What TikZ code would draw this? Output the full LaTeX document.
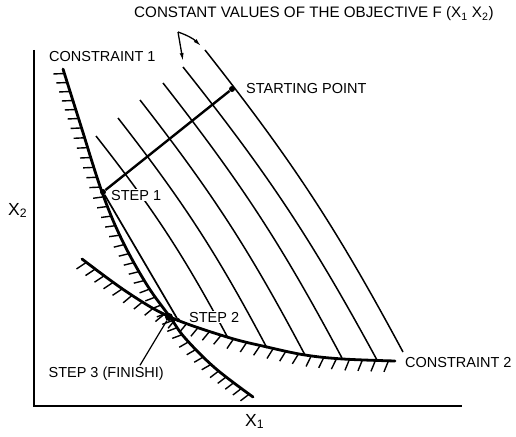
\documentclass[tikz,border=0pt]{standalone}
\usepackage{fontspec}
\setmainfont{Liberation Sans}
\usetikzlibrary{arrows.meta, calc}

\begin{document}
\begin{tikzpicture}[
    x=1pt, y=-1pt,
    font=\fontsize{14.5}{17}\selectfont,
    axis/.style={line width=1.8pt},
    axislbl/.style={inner sep=1pt, font=\fontsize{17.5}{20}\selectfont},
    constraint/.style={line width=2.8pt, line cap=round, line join=round},
    hatchline/.style={line width=1.4pt},
    contour/.style={line width=1.5pt},
    move/.style={line width=2.4pt},
    txt/.style={inner sep=1pt},
    dot/.style={circle, fill, inner sep=0pt, minimum size=6pt},
    pointer/.style={line width=1.3pt, -{Latex[length=8pt,width=4pt]}},
]
\useasboundingbox (0,0) rectangle (516,436);

% axes
\coordinate (origin) at (34,406);
\draw[axis] (34,50) -- (origin) -- (462,406);

% lines of constant objective
\foreach \ta/\tb/\ea/\eb in {96/136/228/338, 118/118/267/348, 140/100/305/355,
    163/83/342/358, 183/67/377/360, 205/50/403/352}
  \draw[contour] (\ta,\tb) to[bend left=5] (\ea,\eb);

% labels
\node[txt, anchor=base west, font=\fontsize{15.2}{17}\selectfont] (objlbl) at (133,18)
  {CONSTANT VALUES OF THE OBJECTIVE F (X\textsubscript{1} X\textsubscript{2})};
\node[txt, anchor=base west] (c1lbl) at (48,62) {CONSTRAINT 1};
\node[txt, anchor=base west] (startlbl) at (245,93) {STARTING POINT};
\node[txt, anchor=base west, fill=white] (step1lbl) at (110,200) {STEP 1};
\node[txt, anchor=base west, fill=white] (step2lbl) at (188,322) {STEP 2};
\node[txt, anchor=base east] (step3lbl) at (165,377) {STEP 3 (FINISHI)};
\node[txt, anchor=base west] (c2lbl) at (404,367) {CONSTRAINT 2};
\node[axislbl, anchor=base west] (xtwo) at (7,215) {X\textsubscript{2}};
\node[axislbl, anchor=base west] (xone) at (244,426) {X\textsubscript{1}};

% constraint 1
\coordinate (a1) at (63,69);   \coordinate (a2) at (80,123);  \coordinate (a3) at (102,192);
\coordinate (a4) at (122,240); \coordinate (a5) at (147,285); \coordinate (a6) at (170,317);
\coordinate (a7) at (185,338); \coordinate (a8) at (215,368); \coordinate (a9) at (253,397);
\draw[constraint] plot[smooth, tension=0.6] coordinates {(a1) (a2) (a3) (a4) (a5) (a6) (a7) (a8) (a9)};
\foreach \p/\q/\n in {a1/a2/6, a2/a3/7, a3/a4/5, a4/a5/5, a5/a6/4, a6/a7/3, a7/a8/4, a8/a9/5}
  \foreach \i in {1,...,\n}
    \draw[hatchline] ($(\p)!{(\i-0.5)/\n}!(\q)$) -- ($(\p)!{(\i-0.5)/\n}!(\q)!11pt!-105:(\q)$);

% constraint 2
\coordinate (b1) at (82,259);  \coordinate (b2) at (127,292); \coordinate (b3) at (170,317);
\coordinate (b4) at (227,337); \coordinate (b5) at (267,347); \coordinate (b6) at (305,355);
\coordinate (b7) at (343,359); \coordinate (b8) at (395,361);
\draw[constraint] plot[smooth, tension=0.6] coordinates {(b1) (b2) (b3) (b4) (b5) (b6) (b7) (b8)};
\foreach \p/\q/\n in {b1/b2/5, b2/b3/4, b3/b4/5, b4/b5/3, b5/b6/3, b6/b7/3, b7/b8/4}
  \foreach \i in {1,...,\n}
    \draw[hatchline] ($(\p)!{(\i-0.5)/\n}!(\q)$) -- ($(\p)!{(\i-0.5)/\n}!(\q)!12pt!-110:(\q)$);

% search steps
\node[dot] (start) at (232,89) {};
\node[dot] (step1) at (103,192) {};
\node[dot, minimum size=4pt] (step2) at (178,320) {};
\node[dot, minimum size=8pt] (step3) at (169,317) {};
\draw[move] (start) -- (step1);
\draw[contour, line width=1.7pt] (step1) -- (step2);
\draw[line width=1.2pt] ([xshift=-25pt]step3lbl.north east) -- (step3);

% pointer to the contours
\coordinate (apex) at (178,32);
\coordinate (tipfive) at (183,61);
\coordinate (tipsix) at (201,46);
\draw[pointer] (apex) -- (tipfive);
\draw[pointer] (apex) to[bend left=12] (tipsix);
\end{tikzpicture}
\end{document}
